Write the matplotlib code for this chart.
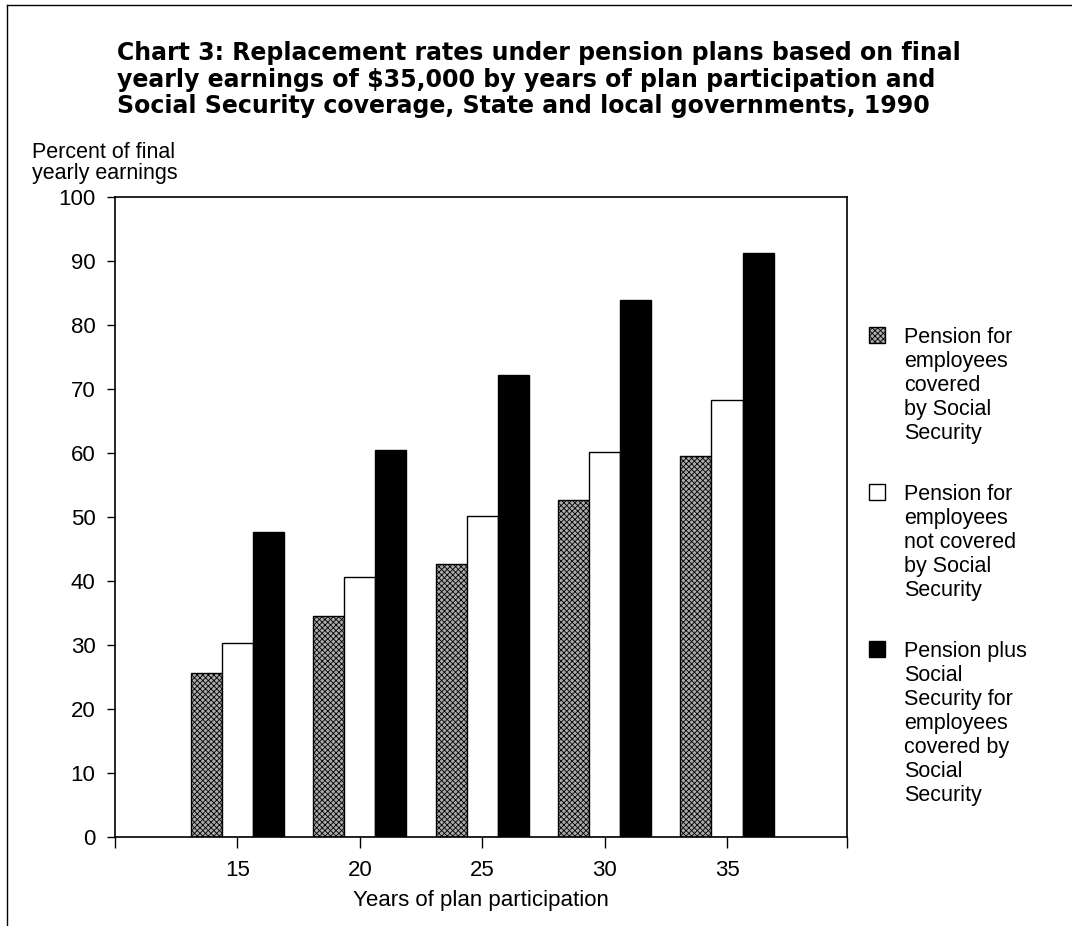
import matplotlib
matplotlib.use("Agg")
import matplotlib.pyplot as plt
import numpy as np
from matplotlib.patches import Rectangle

years = [15, 20, 25, 30, 35]
covered = [25.6, 34.6, 42.7, 52.7, 59.5]
not_covered = [30.3, 40.6, 50.2, 60.1, 68.2]
plus_ss = [47.7, 60.4, 72.1, 83.9, 91.2]
yticks = list(range(0, 101, 10))
title_lines = [
    "Chart 3: Replacement rates under pension plans based on final",
    "yearly earnings of $35,000 by years of plan participation and",
    "Social Security coverage, State and local governments, 1990",
]
ylabel_lines = ["Percent of final", "yearly earnings"]
legend_labels = [
    ["Pension for", "employees", "covered", "by Social", "Security"],
    ["Pension for", "employees", "not covered", "by Social", "Security"],
    ["Pension plus", "Social", "Security for", "employees", "covered by",
     "Social", "Security"],
]

plt.rcParams['font.family'] = ['Liberation Sans', 'DejaVu Sans']
plt.rcParams['hatch.linewidth'] = 0.6

W, H = 1072, 926
fig = plt.figure(figsize=(W / 100, H / 100), dpi=100)
L, R, B, T = 115, 847, 837.3, 196.7
ax = fig.add_axes([L / W, 1 - B / H, (R - L) / W, (B - T) / H])

def fx(px):
    return px / W

def fy(py):
    return 1 - py / H

w = 1.27
x = np.array(years, dtype=float)
gray = '#aaaaaa'
ax.bar(x - w, covered, width=w, facecolor=gray, edgecolor='black',
       hatch='xxxxxx', linewidth=1.0)
ax.bar(x, not_covered, width=w, facecolor='white', edgecolor='black', linewidth=1.0)
ax.bar(x + w, plus_ss, width=w, facecolor='black', edgecolor='black', linewidth=1.0)

ax.set_xlim(10, 39.9)
ax.set_ylim(0, 100)
ax.set_yticks(yticks)
ax.set_xticks([10] + years + [39.9])
ax.set_xticklabels([''] + [str(y) for y in years] + [''])
ax.tick_params(axis='both', direction='out', labelsize=16, width=1.0)
ax.tick_params(axis='y', length=6, pad=8)
ax.tick_params(axis='x', length=8, pad=8)
for s in ax.spines.values():
    s.set_linewidth(1.2)
ax.set_xlabel("Years of plan participation", fontsize=16, labelpad=7)

for i, line in enumerate(ylabel_lines):
    fig.text(fx(32), fy(158 + 21 * i), line, fontsize=15.5, ha='left', va='baseline')

for i, line in enumerate(title_lines):
    fig.text(fx(117), fy(60 + 26.5 * i), line, fontsize=17, fontweight='bold',
             family='DejaVu Sans', ha='left', va='baseline')

# legend
styles = [dict(facecolor=gray, hatch='xxxxxx'),
          dict(facecolor='white'),
          dict(facecolor='black')]
base0 = [343, 500, 657]
for lines, st, b0 in zip(legend_labels, styles, base0):
    fig.patches.append(Rectangle((fx(869), fy(b0)), 16 / W, 16 / H,
                                 transform=fig.transFigure, edgecolor='black',
                                 linewidth=1.0, **st))
    for j, line in enumerate(lines):
        fig.text(fx(904), fy(b0 + 24 * j), line, fontsize=15.5, ha='left',
                 va='baseline')

# page border
fig.add_artist(plt.Line2D([fx(7), fx(7)], [0.0, fy(5)], transform=fig.transFigure,
                          color='black', linewidth=1.0))
fig.add_artist(plt.Line2D([fx(7), 1.0], [fy(5), fy(5)], transform=fig.transFigure,
                          color='black', linewidth=1.0))

fig.savefig("out.png", dpi=100)
